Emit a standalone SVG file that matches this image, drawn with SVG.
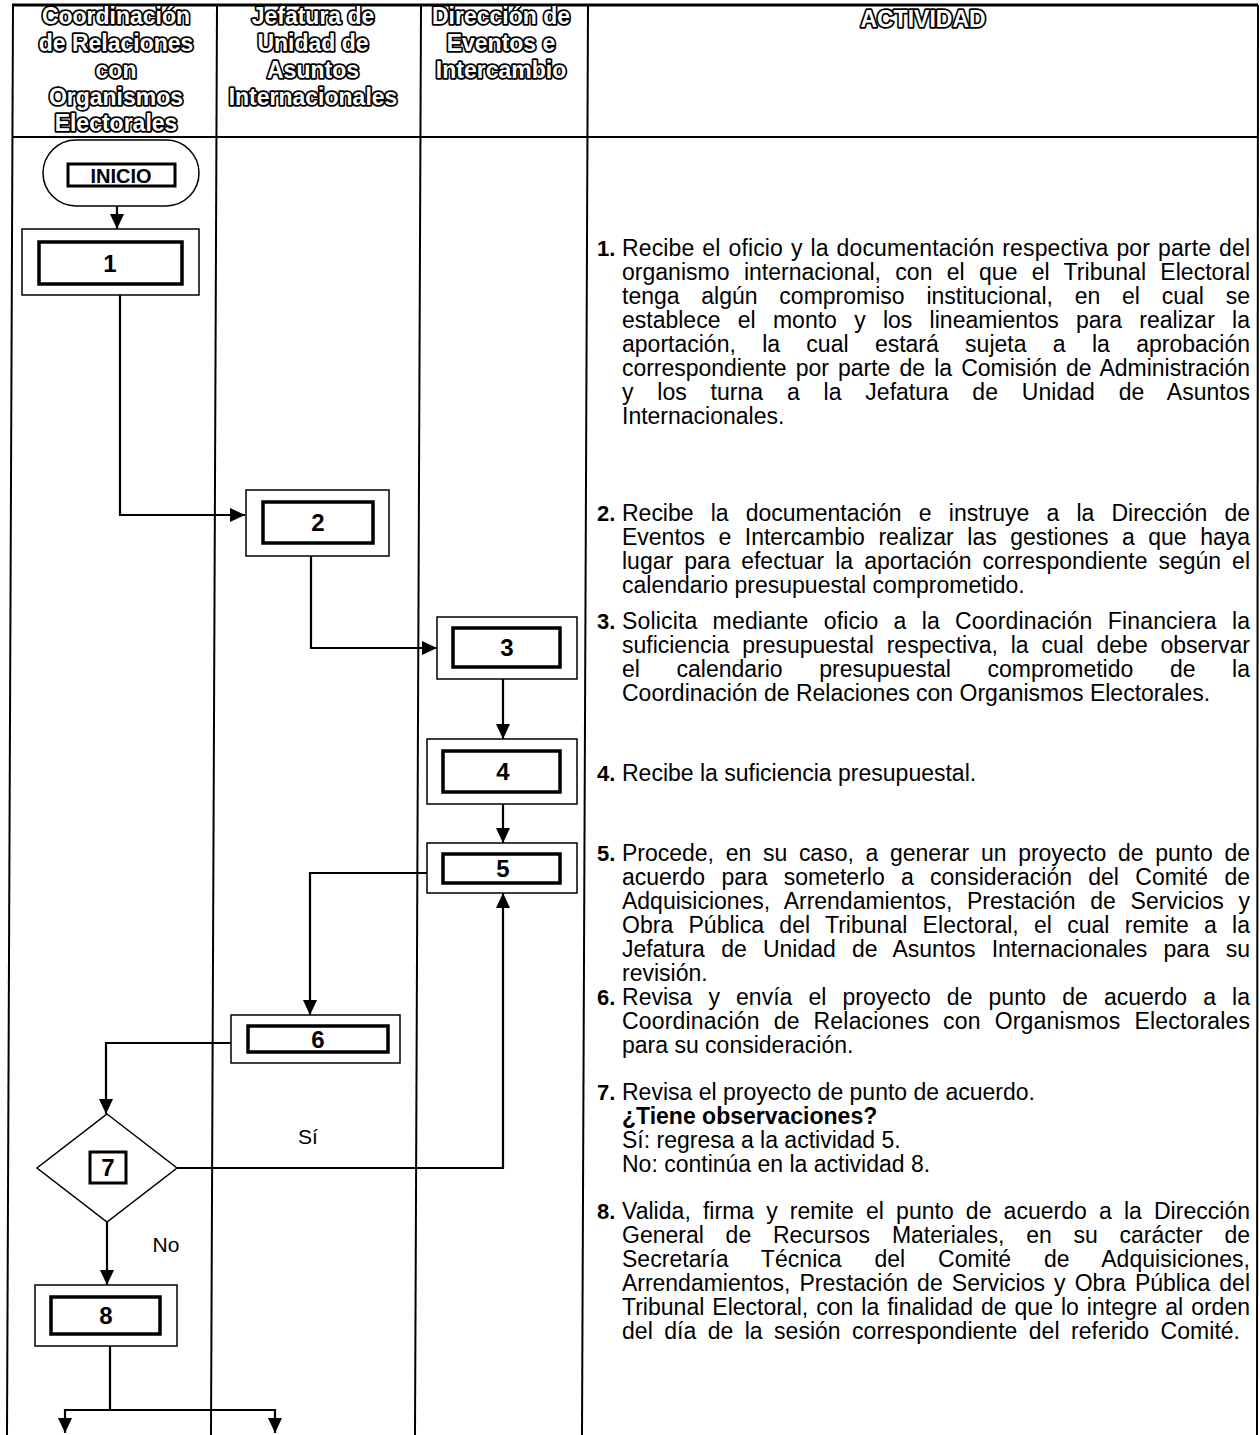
<svg xmlns="http://www.w3.org/2000/svg" width="1260" height="1435" viewBox="0 0 1260 1435">
<style>
.frame{stroke:#000;stroke-width:2;fill:none}
.outer{fill:#fff;stroke:#000;stroke-width:1.5}
.inner{fill:#fff;stroke:#000;stroke-width:3.5}
.num{font-family:'Liberation Sans',Arial,sans-serif;font-weight:bold;font-size:24px;text-anchor:middle;fill:#000}
.hdr{font-family:'Liberation Sans',Arial,sans-serif;font-weight:bold;font-size:23px;fill:#fff;stroke:#000;stroke-width:3.5;paint-order:stroke;stroke-linejoin:round;text-anchor:middle}
.t{font-family:'Liberation Sans',Arial,sans-serif;font-size:23px;fill:#000}
.n{font-family:'Liberation Sans',Arial,sans-serif;font-size:22px;font-weight:bold;fill:#000}
.b{font-weight:bold}
.lbl{font-family:'Liberation Sans',Arial,sans-serif;font-size:21px;fill:#000;text-anchor:middle}
.conn{stroke:#000;stroke-width:2.2;fill:none}
.arr{marker-end:url(#ah)}
</style>
<defs>
<marker id="ah" markerUnits="userSpaceOnUse" markerWidth="16" markerHeight="14" refX="15" refY="7" orient="auto">
<path d="M0,0 L15,7 L0,14 z" fill="#000"/>
</marker>
</defs>

<g id="frame">
<line class="frame" x1="12" y1="5" x2="1258" y2="5" style="stroke-width:3"/>
<line class="frame" x1="12" y1="137" x2="1258" y2="137"/>
<line class="frame" x1="13" y1="5" x2="7" y2="1435"/>
<line class="frame" x1="217" y1="5" x2="211" y2="1435"/>
<line class="frame" x1="421" y1="5" x2="415" y2="1435"/>
<line class="frame" x1="588" y1="5" x2="582" y2="1435"/>
<line class="frame" x1="1258" y1="5" x2="1257" y2="1435"/>
</g>

<g id="headers">
<text class="hdr" x="116" y="24">Coordinación</text>
<text class="hdr" x="116" y="51">de Relaciones</text>
<text class="hdr" x="116" y="78">con</text>
<text class="hdr" x="116" y="105">Organismos</text>
<text class="hdr" x="116" y="131">Electorales</text>
<text class="hdr" x="313" y="24">Jefatura de</text>
<text class="hdr" x="313" y="51">Unidad de</text>
<text class="hdr" x="313" y="78">Asuntos</text>
<text class="hdr" x="313" y="105">Internacionales</text>
<text class="hdr" x="501" y="24">Dirección de</text>
<text class="hdr" x="501" y="51">Eventos e</text>
<text class="hdr" x="501" y="78">Intercambio</text>
<text class="hdr" x="923" y="27">ACTIVIDAD</text>
</g>

<g id="connectors">
<path class="conn arr" d="M117,206 V229"/>
<path class="conn arr" d="M120,295 V515 H245"/>
<path class="conn arr" d="M311,556 V648 H437"/>
<path class="conn arr" d="M503,679 V739"/>
<path class="conn arr" d="M503,804 V843"/>
<path class="conn arr" d="M427,873 H310 V1015"/>
<path class="conn arr" d="M231,1043 H106 V1114"/>
<path class="conn arr" d="M177,1168 H503 V893"/>
<path class="conn arr" d="M107,1222 V1285"/>
<path class="conn" d="M110,1346 V1410"/>
<path class="conn arr" d="M110,1410 H65 V1433"/>
<path class="conn arr" d="M110,1410 H275 V1433"/>
<text class="lbl" x="308" y="1144">Sí</text>
<text class="lbl" x="166" y="1252">No</text>
</g>

<g id="inicio">
<rect class="outer" x="43" y="140" width="156" height="66" rx="33"/>
<rect class="inner" x="68" y="164" width="107" height="22" style="stroke-width:3"/>
<text x="121" y="183" style="font-family:'Liberation Sans',Arial,sans-serif;font-weight:bold;font-size:20px;text-anchor:middle">INICIO</text>
</g>

<g id="n1">
<rect class="outer" x="22" y="229" width="177" height="66"/>
<rect class="inner" x="39" y="242" width="143" height="42"/>
<text class="num" x="110" y="272">1</text>
</g>

<g id="n2">
<rect class="outer" x="246" y="490" width="143" height="66"/>
<rect class="inner" x="263" y="502" width="110" height="41"/>
<text class="num" x="318" y="531">2</text>
</g>

<g id="n3">
<rect class="outer" x="437" y="617" width="140" height="62"/>
<rect class="inner" x="453" y="628" width="107" height="39"/>
<text class="num" x="507" y="656">3</text>
</g>

<g id="n4">
<rect class="outer" x="427" y="739" width="150" height="65"/>
<rect class="inner" x="443" y="751" width="117" height="41"/>
<text class="num" x="503" y="780">4</text>
</g>

<g id="n5">
<rect class="outer" x="427" y="843" width="150" height="50"/>
<rect class="inner" x="443" y="854" width="117" height="29"/>
<text class="num" x="503" y="877">5</text>
</g>

<g id="n6">
<rect class="outer" x="231" y="1015" width="169" height="48"/>
<rect class="inner" x="248" y="1026" width="140" height="26"/>
<text class="num" x="318" y="1048">6</text>
</g>

<g id="n7">
<polygon points="107,1114 177,1168 107,1222 37,1168" fill="#fff" stroke="#000" stroke-width="1.5"/>
<rect class="inner" x="90" y="1152" width="36" height="31" style="stroke-width:3"/>
<text class="num" x="108" y="1176">7</text>
</g>

<g id="n8">
<rect class="outer" x="35" y="1285" width="142" height="61"/>
<rect class="inner" x="51" y="1297" width="109" height="37"/>
<text class="num" x="106" y="1324">8</text>
</g>

<g id="activities">
<text class="n" x="597" y="256">1.</text>
<text class="t" x="622" y="256" textLength="628" lengthAdjust="spacing" word-spacing="1.4">Recibe el oficio y la documentación respectiva por parte del</text>
<text class="t" x="622" y="280" textLength="628" lengthAdjust="spacing" word-spacing="7.9">organismo internacional, con el que el Tribunal Electoral</text>
<text class="t" x="622" y="304" textLength="628" lengthAdjust="spacing" word-spacing="15.4">tenga algún compromiso institucional, en el cual se</text>
<text class="t" x="622" y="328" textLength="628" lengthAdjust="spacing" word-spacing="10.9">establece el monto y los lineamientos para realizar la</text>
<text class="t" x="622" y="352" textLength="628" lengthAdjust="spacing" word-spacing="19.9">aportación, la cual estará sujeta a la aprobación</text>
<text class="t" x="622" y="376" textLength="628" lengthAdjust="spacing" word-spacing="2.8">correspondiente por parte de la Comisión de Administración</text>
<text class="t" x="622" y="400" textLength="628" lengthAdjust="spacing" word-spacing="17.4">y los turna a la Jefatura de Unidad de Asuntos</text>
<text class="t" x="622" y="424">Internacionales.</text>

<text class="n" x="597" y="521">2.</text>
<text class="t" x="622" y="521" textLength="628" lengthAdjust="spacing" word-spacing="10.8">Recibe la documentación e instruye a la Dirección de</text>
<text class="t" x="622" y="545" textLength="628" lengthAdjust="spacing" word-spacing="7.1">Eventos e Intercambio realizar las gestiones a que haya</text>
<text class="t" x="622" y="569" textLength="628" lengthAdjust="spacing" word-spacing="4.6">lugar para efectuar la aportación correspondiente según el</text>
<text class="t" x="622" y="593">calendario presupuestal comprometido.</text>

<text class="n" x="597" y="629">3.</text>
<text class="t" x="622" y="629" textLength="628" lengthAdjust="spacing" word-spacing="8.6">Solicita mediante oficio a la Coordinación Financiera la</text>
<text class="t" x="622" y="653" textLength="628" lengthAdjust="spacing" word-spacing="6.5">suficiencia presupuestal respectiva, la cual debe observar</text>
<text class="t" x="622" y="677" textLength="628" lengthAdjust="spacing" word-spacing="30.2">el calendario presupuestal comprometido de la</text>
<text class="t" x="622" y="701">Coordinación de Relaciones con Organismos Electorales.</text>

<text class="n" x="597" y="781">4.</text>
<text class="t" x="622" y="781">Recibe la suficiencia presupuestal.</text>

<text class="n" x="597" y="861">5.</text>
<text class="t" x="622" y="861" textLength="628" lengthAdjust="spacing" word-spacing="5.3">Procede, en su caso, a generar un proyecto de punto de</text>
<text class="t" x="622" y="885" textLength="628" lengthAdjust="spacing" word-spacing="9.9">acuerdo para someterlo a consideración del Comité de</text>
<text class="t" x="622" y="909" textLength="628" lengthAdjust="spacing" word-spacing="8.3">Adquisiciones, Arrendamientos, Prestación de Servicios y</text>
<text class="t" x="622" y="933" textLength="628" lengthAdjust="spacing" word-spacing="8.8">Obra Pública del Tribunal Electoral, el cual remite a la</text>
<text class="t" x="622" y="957" textLength="628" lengthAdjust="spacing" word-spacing="9.9">Jefatura de Unidad de Asuntos Internacionales para su</text>
<text class="t" x="622" y="981">revisión.</text>

<text class="n" x="597" y="1005">6.</text>
<text class="t" x="622" y="1005" textLength="628" lengthAdjust="spacing" word-spacing="9.7">Revisa y envía el proyecto de punto de acuerdo a la</text>
<text class="t" x="622" y="1029" textLength="628" lengthAdjust="spacing" word-spacing="7.4">Coordinación de Relaciones con Organismos Electorales</text>
<text class="t" x="622" y="1053">para su consideración.</text>

<text class="n" x="597" y="1100">7.</text>
<text class="t" x="622" y="1100">Revisa el proyecto de punto de acuerdo.</text>
<text class="t b" x="622" y="1124">¿Tiene observaciones?</text>
<text class="t" x="622" y="1148">Sí: regresa a la actividad 5.</text>
<text class="t" x="622" y="1172">No: continúa en la actividad 8.</text>

<text class="n" x="597" y="1219">8.</text>
<text class="t" x="622" y="1219" textLength="628" lengthAdjust="spacing" word-spacing="5.7">Valida, firma y remite el punto de acuerdo a la Dirección</text>
<text class="t" x="622" y="1243" textLength="628" lengthAdjust="spacing" word-spacing="15.4">General de Recursos Materiales, en su carácter de</text>
<text class="t" x="622" y="1267" textLength="628" lengthAdjust="spacing" word-spacing="26.4">Secretaría Técnica del Comité de Adquisiciones,</text>
<text class="t" x="622" y="1291" textLength="628" lengthAdjust="spacing" word-spacing="2.8">Arrendamientos, Prestación de Servicios y Obra Pública del</text>
<text class="t" x="622" y="1315" textLength="628" lengthAdjust="spacing" word-spacing="1.6">Tribunal Electoral, con la finalidad de que lo integre al orden</text>
<text class="t" x="622" y="1339" textLength="618" lengthAdjust="spacing" word-spacing="5">del día de la sesión correspondiente del referido Comité.</text>
</g>
</svg>
